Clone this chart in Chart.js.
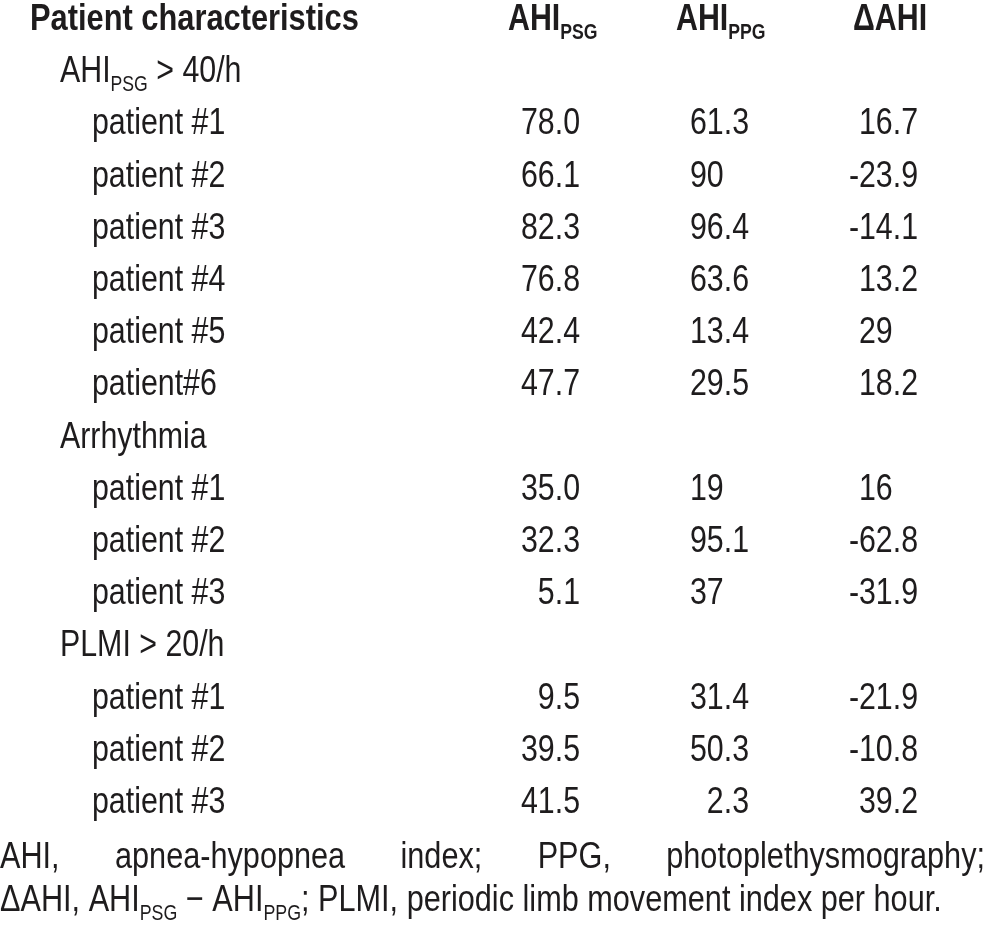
<!DOCTYPE html>
<html>
<head>
<meta charset="utf-8">
<script src="https://cdn.jsdelivr.net/npm/chart.js@4"></script>
<style>
html,body{margin:0;padding:0;background:#fff;}
#wrap{width:988px;height:940px;position:relative;}
</style>
</head>
<body>
<div id="wrap"><canvas id="c" width="988" height="940"></canvas></div>
<script>
// ---------- data ----------
const titleLabel = 'Patient characteristics';
const columnLabels = ['AHI_{PSG}', 'AHI_{PPG}', '\u0394AHI'];
const groupLabels = ['AHI_{PSG} > 40/h', 'Arrhythmia', 'PLMI > 20/h'];
const patientLabels = ['patient #1','patient #2','patient #3','patient #4','patient #5','patient#6',
                       'patient #1','patient #2','patient #3',
                       'patient #1','patient #2','patient #3'];
const patientGroup = [0,0,0,0,0,0,1,1,1,2,2,2];
const ahiPSG   = [78.0, 66.1, 82.3, 76.8, 42.4, 47.7, 35.0, 32.3, 5.1, 9.5, 39.5, 41.5];
const ahiPPG   = [61.3, 90, 96.4, 63.6, 13.4, 29.5, 19, 95.1, 37, 31.4, 50.3, 2.3];
const deltaAHI = [16.7, -23.9, -14.1, 13.2, 29, 18.2, 16, -62.8, -31.9, -21.9, -10.8, 39.2];
const footnoteLine1 = 'AHI, apnea-hypopnea index; PPG, photoplethysmography;';
const footnoteLine2 = '\u0394AHI, AHI_{PSG} \u2212 AHI_{PPG}; PLMI, periodic limb movement index per hour.';

// ---------- row layout (row index per line of the table) ----------
const rowOfGroup = [];
const rowOfPatient = [];
(function(){
  let r = 1, g = -1;
  patientGroup.forEach((pg, i) => {
    if (pg !== g) { g = pg; rowOfGroup[g] = r++; }
    rowOfPatient[i] = r++;
  });
})();
const lastRow = rowOfPatient[rowOfPatient.length - 1];

const columns = [ahiPSG, ahiPPG, deltaAHI];
const formatters = [v => v.toFixed(1), v => String(v), v => String(v)];

// ---------- font ----------
const TEXT = '#1e1c1d';
const probe = document.createElement('canvas').getContext('2d');
function hasFont(name){
  probe.font = '40px "' + name + '", monospace';
  const a = probe.measureText('abcdefghijklmnopqrstuvwxyz0123').width;
  probe.font = '40px monospace';
  const b = probe.measureText('abcdefghijklmnopqrstuvwxyz0123').width;
  return Math.abs(a - b) > 0.5;
}
let FAMILY = '"Liberation Sans Narrow"', SX = 1;
if (!hasFont('Liberation Sans Narrow')) { FAMILY = '"Liberation Sans", Arial, sans-serif'; SX = 0.82; }

const BASE = 37, SUB = 21.5, SUBDROP = 9;
const TITLE = 37.6, FOOT = 37.4;

function parseRich(s){
  const segs = []; const re = /_\{([^}]*)\}/g; let last = 0, m;
  while ((m = re.exec(s))) {
    if (m.index > last) segs.push({t: s.slice(last, m.index)});
    segs.push({t: m[1], sub: true});
    last = re.lastIndex;
  }
  if (last < s.length) segs.push({t: s.slice(last)});
  return segs;
}
function setFont(ctx, size, bold){ ctx.font = (bold ? 'bold ' : '') + size + 'px ' + FAMILY; }
function richWidth(ctx, s, size, bold){
  let w = 0;
  parseRich(s).forEach(seg => { setFont(ctx, seg.sub ? SUB * size / BASE : size, bold); w += ctx.measureText(seg.t).width * SX; });
  return w;
}
function drawRich(ctx, s, x, y, size, bold, align){
  const w = richWidth(ctx, s, size, bold);
  let cx = align === 'right' ? x - w : x;
  parseRich(s).forEach(seg => {
    const sz = seg.sub ? SUB * size / BASE : size;
    setFont(ctx, sz, bold);
    ctx.save();
    ctx.translate(cx, y + (seg.sub ? SUBDROP * size / BASE : 0));
    ctx.scale(SX, 1);
    ctx.fillText(seg.t, 0, 0);
    ctx.restore();
    cx += ctx.measureText(seg.t).width * SX;
  });
}
function drawJustified(ctx, s, left, right, y, size){
  const words = s.split(' ');
  const ws = words.map(wd => richWidth(ctx, wd, size, false));
  const total = ws.reduce((a, b) => a + b, 0);
  const gap = (right - left - total) / (words.length - 1);
  let x = left;
  words.forEach((wd, i) => { drawRich(ctx, wd, x, y, size, false, 'left'); x += ws[i] + gap; });
}

// ---------- table plugin ----------
const tablePlugin = {
  id: 'tableText',
  afterDatasetsDraw(chart){
    const ctx = chart.ctx, xs = chart.scales.x, ys = chart.scales.y;
    const half = 13; // baseline below row centre
    ctx.save();
    ctx.fillStyle = TEXT;
    ctx.textBaseline = 'alphabetic';
    const left = chart.chartArea.left;
    // header
    const y0 = ys.getPixelForValue(0) + half;
    drawRich(ctx, titleLabel, left + 30, y0, TITLE, true, 'left');
    const headerShift = [72, 73, 65];
    columnLabels.forEach((lab, c) => {
      drawRich(ctx, lab, xs.getPixelForValue(c + 1) - headerShift[c], y0, BASE, true, 'left');
    });
    // group labels
    groupLabels.forEach((g, i) => {
      drawRich(ctx, g, left + 60, ys.getPixelForValue(rowOfGroup[i]) + half, BASE, false, 'left');
    });
    // patient labels
    patientLabels.forEach((p, i) => {
      drawRich(ctx, p, left + 92, ys.getPixelForValue(rowOfPatient[i]) + half, BASE, false, 'left');
    });
    // values from dataset elements
    setFont(ctx, BASE, false);
    const fullW = ctx.measureText('00.0').width * SX;
    chart.data.datasets.forEach((ds, d) => {
      const meta = chart.getDatasetMeta(d);
      meta.data.forEach((el, i) => {
        const v = columns[d][i];
        const txt = formatters[d](v);
        const isInt = Number.isInteger(v) && d > 0;
        if (isInt) drawRich(ctx, txt, el.x - fullW, el.y + half, BASE, false, 'left');
        else drawRich(ctx, txt, el.x, el.y + half, BASE, false, 'right');
      });
    });
    // footnote
    drawJustified(ctx, footnoteLine1, left, chart.chartArea.right - 3, ys.getPixelForValue(lastRow + 1.05) + half, FOOT);
    drawRich(ctx, footnoteLine2, left, ys.getPixelForValue(lastRow + 1.88) + half, FOOT, false, 'left');
    ctx.restore();
  }
};

const datasets = columns.map((vals, c) => ({
  label: columnLabels[c],
  data: vals.map((v, i) => ({x: c + 1, y: rowOfPatient[i]})),
  pointRadius: 0, pointHoverRadius: 0, showLine: false
}));

new Chart(document.getElementById('c'), {
  type: 'scatter',
  data: { datasets },
  options: {
    responsive: false, animation: false, events: [],
    layout: { padding: 0 },
    plugins: { legend: { display: false }, tooltip: { enabled: false } },
    scales: {
      x: { type: 'linear', display: false, min: -2.432, max: 3.414 },
      y: { type: 'linear', display: false, reverse: true, min: -0.3257, max: 17.682 }
    }
  },
  plugins: [tablePlugin]
});
</script>
</body>
</html>
